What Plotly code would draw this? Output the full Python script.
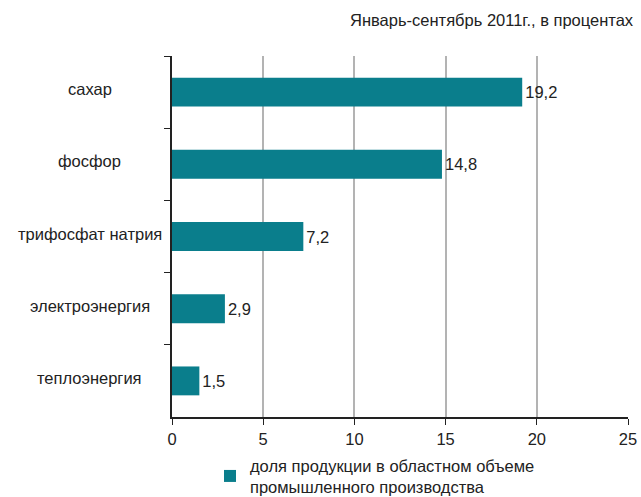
import plotly.graph_objects as go

# доля продукции, %
categories = ["сахар", "фосфор", "трифосфат натрия", "электроэнергия", "теплоэнергия"]
values = [19.2, 14.8, 7.2, 2.9, 1.5]
labels = ["19,2", "14,8", "7,2", "2,9", "1,5"]
x_ticks = [0, 5, 10, 15, 20, 25]
series_name = "доля продукции в областном объеме<br>промышленного производства"
title_text = "Январь-сентябрь 2011г., в процентах"

font = "Liberation Sans, Arial, sans-serif"
fs = 16.5

fig = go.Figure(go.Bar(
    x=values, y=categories, orientation="h",
    marker=dict(color="#0a7e8c", line=dict(width=0)),
    text=labels, textposition="outside", cliponaxis=False,
    textfont=dict(size=fs, color="#222222", family=font),
    name=series_name, showlegend=True,
))

# подписи категорий по центру слева
for c in categories:
    fig.add_annotation(x=-0.18, xref="paper", y=c, yref="y", text=c,
                       showarrow=False, xanchor="center", yshift=3,
                       font=dict(size=fs, color="#222222", family=font))

fig.add_annotation(x=1.0175, xref="paper", y=1.0997, yref="paper", text=title_text,
                   showarrow=False, xanchor="right", yanchor="middle",
                   font=dict(size=fs, color="#222222", family=font))

fig.update_layout(
    width=641, height=497,
    margin=dict(l=172, r=13, t=56, b=80, autoexpand=False),
    paper_bgcolor="white", plot_bgcolor="white",
    bargap=0.6,
    font=dict(family=font, size=fs, color="#222222"),
    xaxis=dict(range=[0, 25], tickvals=x_ticks, showgrid=True,
               gridcolor="#b3b3b3", gridwidth=1.5, zeroline=False,
               showline=True, linecolor="#222222", linewidth=1.5,
               ticks="outside", ticklen=6, tickcolor="#222222",
               tickfont=dict(size=fs)),
    yaxis=dict(autorange="reversed", showticklabels=False, tickson="boundaries",
               ticks="outside", ticklen=6, tickcolor="#222222",
               showline=True, linecolor="#222222", linewidth=1.5,
               showgrid=False, zeroline=False),
    legend=dict(x=0.3276, y=0.0986, xref="container", yref="container",
                xanchor="left", yanchor="top",
                font=dict(size=fs, color="#222222", family=font),
                bgcolor="rgba(0,0,0,0)"),
)

fig.write_html("out.html", config={"displayModeBar": False},
               post_script="document.body.style.margin='0';")
